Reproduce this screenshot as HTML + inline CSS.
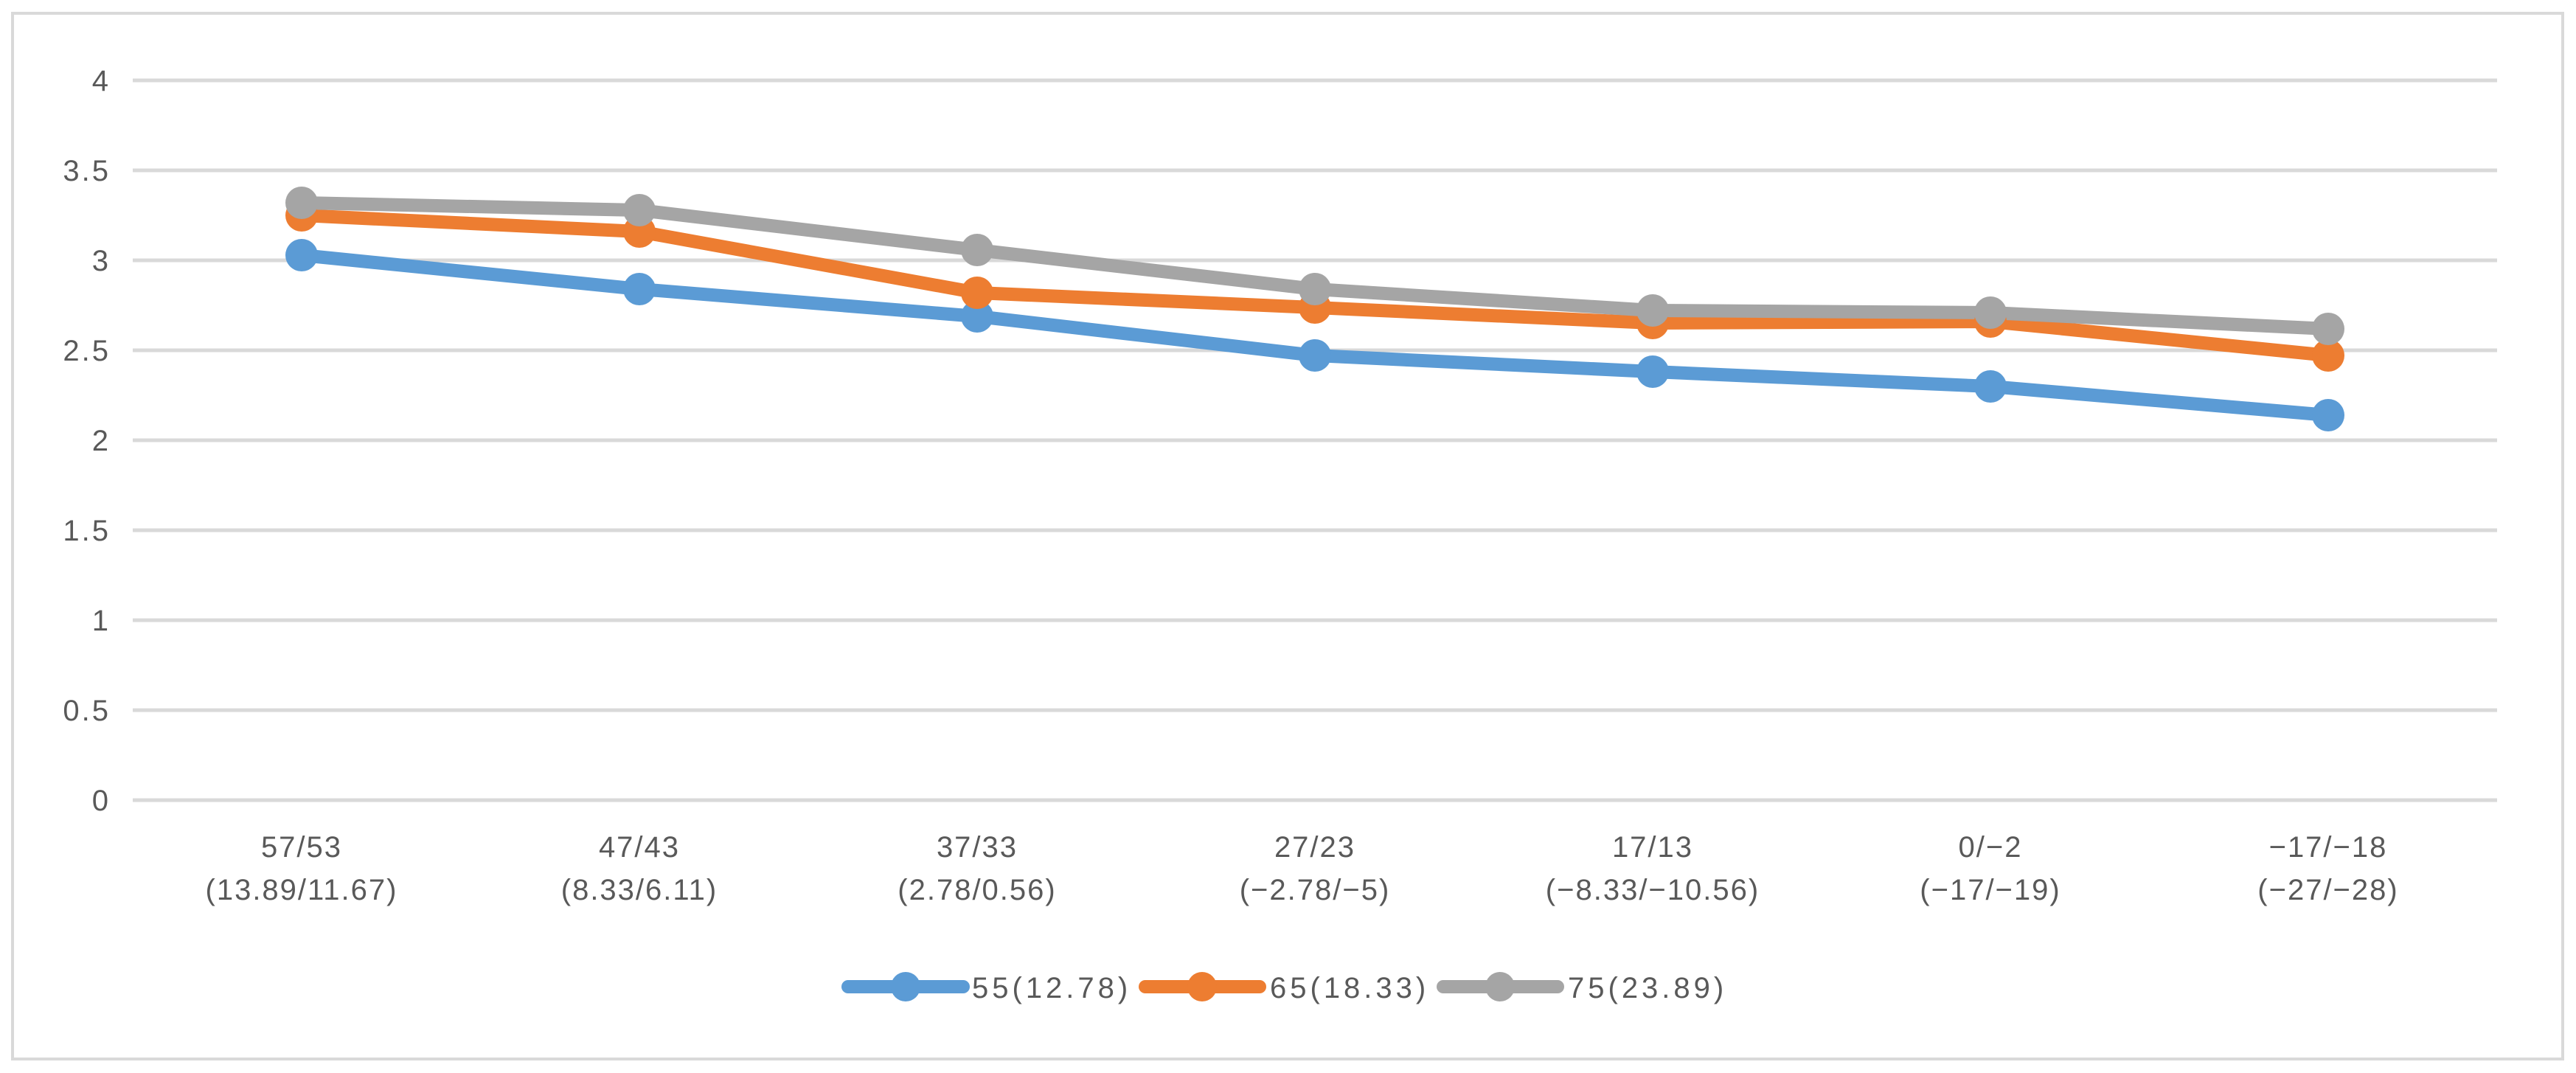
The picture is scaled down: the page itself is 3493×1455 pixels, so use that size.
<!DOCTYPE html>
<html><head><meta charset="utf-8"><style>
html,body{margin:0;padding:0;background:#fff;}
svg text{font-family:"Liberation Sans","Noto Sans CJK JP",sans-serif;fill:#595959;}
</style></head><body>
<svg width="3493" height="1450" viewBox="0 0 3493 1450" xmlns="http://www.w3.org/2000/svg">
<rect x="0" y="0" width="3493" height="1450" fill="#fff"/>
<rect x="17" y="18" width="3458" height="1418" fill="none" stroke="#d9d9d9" stroke-width="4"/>
<g stroke="#d9d9d9" stroke-width="5">
<line x1="180" x2="3386" y1="1085" y2="1085"/>
<line x1="180" x2="3386" y1="963" y2="963"/>
<line x1="180" x2="3386" y1="841" y2="841"/>
<line x1="180" x2="3386" y1="719" y2="719"/>
<line x1="180" x2="3386" y1="597" y2="597"/>
<line x1="180" x2="3386" y1="475" y2="475"/>
<line x1="180" x2="3386" y1="353" y2="353"/>
<line x1="180" x2="3386" y1="231" y2="231"/>
<line x1="180" x2="3386" y1="109" y2="109"/>
</g>
<g font-size="40" text-anchor="end" letter-spacing="3">
<text x="150" y="1099">0</text>
<text x="150" y="977">0.5</text>
<text x="150" y="855">1</text>
<text x="150" y="733">1.5</text>
<text x="150" y="611">2</text>
<text x="150" y="489">2.5</text>
<text x="150" y="367">3</text>
<text x="150" y="245">3.5</text>
<text x="150" y="123">4</text>
</g>
<g font-size="40" text-anchor="middle" letter-spacing="2">
<text x="409" y="1162">57/53</text><text x="409" y="1220">(13.89/11.67)</text>
<text x="867" y="1162">47/43</text><text x="867" y="1220">(8.33/6.11)</text>
<text x="1325" y="1162">37/33</text><text x="1325" y="1220">(2.78/0.56)</text>
<text x="1783" y="1162">27/23</text><text x="1783" y="1220">(−2.78/−5)</text>
<text x="2241" y="1162">17/13</text><text x="2241" y="1220">(−8.33/−10.56)</text>
<text x="2699" y="1162">0/−2</text><text x="2699" y="1220">(−17/−19)</text>
<text x="3157" y="1162">−17/−18</text><text x="3157" y="1220">(−27/−28)</text>
</g>
<g stroke-width="18" fill="none" stroke-linejoin="round" stroke-linecap="round">
<polyline stroke="#5b9bd5" points="409,346 867,392 1325,429 1783,482 2241,504 2699,524 3157,563"/>
<polyline stroke="#ed7d31" points="409,292 867,314 1325,397 1783,417 2241,438 2699,436 3157,482"/>
<polyline stroke="#a5a5a5" points="409,275 867,285 1325,339 1783,392 2241,421 2699,424 3157,446"/>
</g>
<g fill="#5b9bd5"><circle cx="409" cy="346" r="22"/><circle cx="867" cy="392" r="22"/><circle cx="1325" cy="429" r="22"/><circle cx="1783" cy="482" r="22"/><circle cx="2241" cy="504" r="22"/><circle cx="2699" cy="524" r="22"/><circle cx="3157" cy="563" r="22"/></g>
<g fill="#ed7d31"><circle cx="409" cy="292" r="22"/><circle cx="867" cy="314" r="22"/><circle cx="1325" cy="397" r="22"/><circle cx="1783" cy="417" r="22"/><circle cx="2241" cy="438" r="22"/><circle cx="2699" cy="436" r="22"/><circle cx="3157" cy="482" r="22"/></g>
<g fill="#a5a5a5"><circle cx="409" cy="275" r="22"/><circle cx="867" cy="285" r="22"/><circle cx="1325" cy="339" r="22"/><circle cx="1783" cy="392" r="22"/><circle cx="2241" cy="421" r="22"/><circle cx="2699" cy="424" r="22"/><circle cx="3157" cy="446" r="22"/></g>
<g stroke-width="18" stroke-linecap="round">
<line x1="1150" x2="1306" y1="1338" y2="1338" stroke="#5b9bd5"/>
<line x1="1553" x2="1708" y1="1338" y2="1338" stroke="#ed7d31"/>
<line x1="1957" x2="2112" y1="1338" y2="1338" stroke="#a5a5a5"/>
</g>
<circle cx="1228" cy="1338" r="20" fill="#5b9bd5"/>
<circle cx="1630" cy="1338" r="20" fill="#ed7d31"/>
<circle cx="2034" cy="1338" r="20" fill="#a5a5a5"/>
<g font-size="40" letter-spacing="5">
<text x="1318" y="1353">55(12.78)</text>
<text x="1722" y="1353">65(18.33)</text>
<text x="2126" y="1353">75(23.89)</text>
</g>
</svg>
</body></html>
